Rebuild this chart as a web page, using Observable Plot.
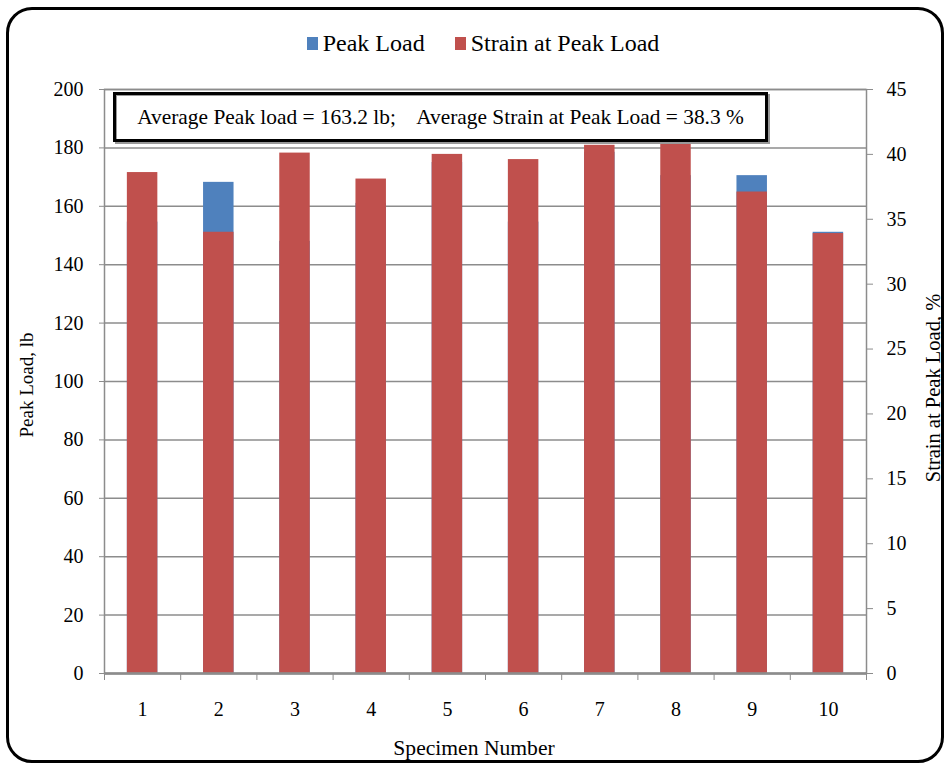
<!DOCTYPE html>
<html>
<head>
<meta charset="utf-8">
<script src="https://cdn.jsdelivr.net/npm/d3@7"></script>
<script src="https://cdn.jsdelivr.net/npm/@observablehq/plot@0.6"></script>
<style>
  html, body { margin: 0; padding: 0; background: #fff; }
  #wrap { position: relative; width: 948px; height: 765px; font-family: "Liberation Serif", serif; color: #000; }
  #border { position: absolute; left: 6px; top: 7px; width: 932px; height: 750px; border: 3px solid #000; border-radius: 26px; }
  #chart { position: absolute; left: 0; top: 0; }
  .legend { position: absolute; top: 30px; left: 9px; width: 948px; text-align: center; font-family: "Liberation Serif", serif; font-size: 24px; white-space: pre; }
  .legend .sw { display: inline-block; width: 11px; height: 13px; margin-right: 5px; vertical-align: 1px; }
  .legend .item { margin: 0 15px; }
  .note { position: absolute; left: 113px; top: 92px; width: 649px; height: 44px; border: 3px solid #000; box-shadow: 2px 2px 0 #999, inset 1px 1px 0 #999; background: #fff; font-family: "Liberation Serif", serif; font-size: 21.4px; text-align: center; line-height: 44px; white-space: pre; }
  .title { position: absolute; font-family: "Liberation Serif", serif; font-size: 19px; white-space: nowrap; }
</style>
</head>
<body>
<div id="wrap">
  <div id="chart"></div>
  <div id="border"></div>
  <div class="legend"><span class="item"><span class="sw" style="background:#4F81BD"></span>Peak Load</span><span class="item"><span class="sw" style="background:#C0504D"></span>Strain at Peak Load</span></div>
  <div class="note">Average Peak load = 163.2 lb;    Average Strain at Peak Load = 38.3 %</div>
  <div class="title" style="left:0;width:948px;top:736px;text-align:center;font-size:21.6px;">Specimen Number</div>
  <div class="title" style="left:27px;top:385px;transform:translate(-50%,-50%) rotate(-90deg);">Peak Load, lb</div>
  <div class="title" style="left:933px;top:388px;font-size:20.5px;transform:translate(-50%,-50%) rotate(-90deg);">Strain at Peak Load, %</div>
</div>
<script>
const specimens = [1, 2, 3, 4, 5, 6, 7, 8, 9, 10];
const peakLoad = [154.6, 168.2, 148.0, 161.0, 175.0, 154.6, 178.5, 170.5, 170.5, 151.1];
const strain = [38.6, 34.0, 40.1, 38.1, 40.0, 39.6, 40.7, 40.8, 37.1, 33.9];
const leftTicks = [0, 20, 40, 60, 80, 100, 120, 140, 160, 180, 200];
const rightTicks = [0, 5, 10, 15, 20, 25, 30, 35, 40, 45];

const loadMax = 200, strainMax = 45;
const toLoad = s => s * loadMax / strainMax;
const data = specimens.map((n, i) => ({n, load: peakLoad[i], strain: strain[i]}));
const half = 0.2;
const boundaries = d3.range(0.5, 11, 1);

const chart = Plot.plot({
  width: 948,
  height: 765,
  marginLeft: 104,
  marginRight: 82,
  marginTop: 89,
  marginBottom: 92,
  style: {fontFamily: '"Liberation Serif", serif', fontSize: "20px", background: "transparent"},
  x: {domain: [0.5, 10.5], axis: null},
  y: {domain: [0, loadMax], axis: null},
  marks: [
    Plot.ruleY(leftTicks, {stroke: "#8c8c8c", strokeWidth: 1.5}),
    Plot.rectY(data, {x1: d => d.n - half, x2: d => d.n + half, y1: 0, y2: "load", fill: "#4F81BD"}),
    Plot.rectY(data, {x1: d => d.n - half, x2: d => d.n + half, y1: 0, y2: d => toLoad(d.strain), fill: "#C0504D"}),
    Plot.frame({stroke: "#8c8c8c", strokeWidth: 1.5}),
    Plot.ruleY([0], {stroke: "#8c8c8c", strokeWidth: 2.5}),
    Plot.axisY(leftTicks, {anchor: "left", tickSize: 5, tickPadding: 16, stroke: "#8c8c8c", fill: "#000", label: null}),
    Plot.axisY(rightTicks.map(toLoad), {anchor: "right", tickSize: 6, tickPadding: 14, stroke: "#8c8c8c", fill: "#000", label: null, tickFormat: v => String(Math.round(v * strainMax / loadMax))}),
    Plot.axisX(boundaries, {anchor: "bottom", tickSize: 7, stroke: "#8c8c8c", tickFormat: () => "", label: null}),
    Plot.axisX(specimens, {anchor: "bottom", tickSize: 0, tickPadding: 28, fill: "#000", label: null})
  ]
});
document.getElementById("chart").appendChild(chart);
</script>
</body>
</html>
